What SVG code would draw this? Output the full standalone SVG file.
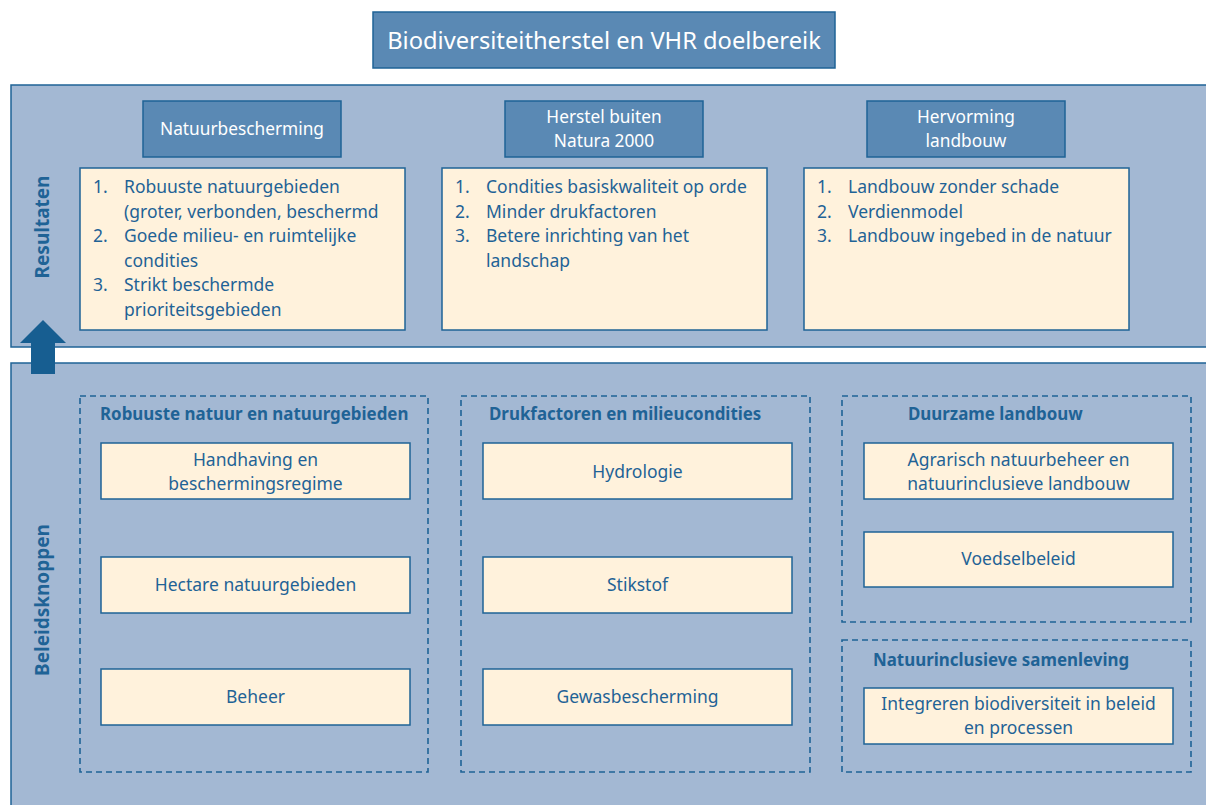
<svg xmlns="http://www.w3.org/2000/svg" width="1206" height="805" viewBox="0 0 1206 805">
<style>
text{font-family:"Noto Sans","Liberation Sans",Arial,sans-serif;}
.panel{fill:#A3B8D3;stroke:#1F6396;stroke-width:1.5;}
.head{fill:#5A89B4;stroke:#1F6396;stroke-width:1.5;}
.cream{fill:#FFF2DC;stroke:#1F6396;stroke-width:1.5;}
.dash{fill:none;stroke:#1F6396;stroke-width:1.6;stroke-dasharray:6 4;}
.wt{fill:#FFFFFF;font-size:17.3px;text-anchor:middle;}
.bt{fill:#1F6396;font-size:17.5px;}
.ct{fill:#1F6396;font-size:17.5px;text-anchor:middle;}
.gt{fill:#1F6396;font-size:16.9px;font-weight:bold;}
.vt{fill:#1F6396;font-size:19px;font-weight:bold;text-anchor:middle;}
</style>
<rect width="1206" height="805" fill="#FFFFFF"/>
<g id="title">
<rect class="head" x="373" y="12" width="462" height="56"/>
<text class="wt" x="604" y="49" style="font-size:23.7px">Biodiversiteitherstel en VHR doelbereik</text>
</g>
<g id="panel-resultaten">
<rect class="panel" x="11" y="85" width="1200" height="262"/>
<text class="vt" transform="translate(49,227) rotate(-90)">Resultaten</text>
</g>
<g id="panel-beleidsknoppen">
<rect class="panel" x="11" y="363" width="1200" height="450"/>
<text class="vt" transform="translate(49,600) rotate(-90)">Beleidsknoppen</text>
</g>
<g id="connectors">
<polygon points="20,343 43,320 66,343 55,343 55,374 31,374 31,343" fill="#175E91"/>
</g>
<g id="head-natuurbescherming">
<rect class="head" x="143" y="101" width="198" height="56"/>
<text class="wt" x="242" y="135">Natuurbescherming</text>
</g>
<g id="head-herstel">
<rect class="head" x="505" y="101" width="198" height="56"/>
<text class="wt" x="604" y="123">Herstel buiten</text>
<text class="wt" x="604" y="147">Natura 2000</text>
</g>
<g id="head-hervorming">
<rect class="head" x="867" y="101" width="198" height="56"/>
<text class="wt" x="966" y="123">Hervorming</text>
<text class="wt" x="966" y="147">landbouw</text>
</g>
<g id="result-natuurbescherming">
<rect class="cream" x="80" y="168" width="325" height="162"/>
<text class="bt" x="93" y="193">1.</text><text class="bt" x="124" y="193">Robuuste natuurgebieden</text>
<text class="bt" x="124" y="218">(groter, verbonden, beschermd</text>
<text class="bt" x="93" y="242">2.</text><text class="bt" x="124" y="242">Goede milieu- en ruimtelijke</text>
<text class="bt" x="124" y="267">condities</text>
<text class="bt" x="93" y="291">3.</text><text class="bt" x="124" y="291">Strikt beschermde</text>
<text class="bt" x="124" y="316">prioriteitsgebieden</text>
</g>
<g id="result-herstel">
<rect class="cream" x="442" y="168" width="325" height="162"/>
<text class="bt" x="455" y="193">1.</text><text class="bt" x="486" y="193">Condities basiskwaliteit op orde</text>
<text class="bt" x="455" y="218">2.</text><text class="bt" x="486" y="218">Minder drukfactoren</text>
<text class="bt" x="455" y="242">3.</text><text class="bt" x="486" y="242">Betere inrichting van het</text>
<text class="bt" x="486" y="267">landschap</text>
</g>
<g id="result-hervorming">
<rect class="cream" x="804" y="168" width="325" height="162"/>
<text class="bt" x="817" y="193">1.</text><text class="bt" x="848" y="193">Landbouw zonder schade</text>
<text class="bt" x="817" y="218">2.</text><text class="bt" x="848" y="218">Verdienmodel</text>
<text class="bt" x="817" y="242">3.</text><text class="bt" x="848" y="242">Landbouw ingebed in de natuur</text>
</g>
<g id="group-robuuste">
<rect class="dash" x="80" y="396" width="348" height="376"/>
<text class="gt" x="100" y="420">Robuuste natuur en natuurgebieden</text>
</g>
<g id="node-handhaving">
<rect class="cream" x="101" y="443" width="309" height="56"/>
<text class="ct" x="255.5" y="466">Handhaving en</text>
<text class="ct" x="255.5" y="490">beschermingsregime</text>
</g>
<g id="node-hectare">
<rect class="cream" x="101" y="557" width="309" height="56"/>
<text class="ct" x="255.5" y="591">Hectare natuurgebieden</text>
</g>
<g id="node-beheer">
<rect class="cream" x="101" y="669" width="309" height="56"/>
<text class="ct" x="255.5" y="703">Beheer</text>
</g>
<g id="group-drukfactoren">
<rect class="dash" x="461" y="396" width="349" height="376"/>
<text class="gt" x="489" y="420">Drukfactoren en milieucondities</text>
</g>
<g id="node-hydrologie">
<rect class="cream" x="483" y="443" width="309" height="56"/>
<text class="ct" x="637.5" y="478">Hydrologie</text>
</g>
<g id="node-stikstof">
<rect class="cream" x="483" y="557" width="309" height="56"/>
<text class="ct" x="637.5" y="591">Stikstof</text>
</g>
<g id="node-gewasbescherming">
<rect class="cream" x="483" y="669" width="309" height="56"/>
<text class="ct" x="637.5" y="703">Gewasbescherming</text>
</g>
<g id="group-duurzame">
<rect class="dash" x="842" y="396" width="349" height="226"/>
<text class="gt" x="908" y="420">Duurzame landbouw</text>
</g>
<g id="node-agrarisch">
<rect class="cream" x="864" y="443" width="309" height="56"/>
<text class="ct" x="1018.5" y="466">Agrarisch natuurbeheer en</text>
<text class="ct" x="1018.5" y="490">natuurinclusieve landbouw</text>
</g>
<g id="node-voedselbeleid">
<rect class="cream" x="864" y="532" width="309" height="55"/>
<text class="ct" x="1018.5" y="565">Voedselbeleid</text>
</g>
<g id="group-natuurinclusief">
<rect class="dash" x="842" y="640" width="349" height="132"/>
<text class="gt" x="873" y="666">Natuurinclusieve samenleving</text>
</g>
<g id="node-integreren">
<rect class="cream" x="864" y="688" width="309" height="56"/>
<text class="ct" x="1018.5" y="710">Integreren biodiversiteit in beleid</text>
<text class="ct" x="1018.5" y="734">en processen</text>
</g>
</svg>
